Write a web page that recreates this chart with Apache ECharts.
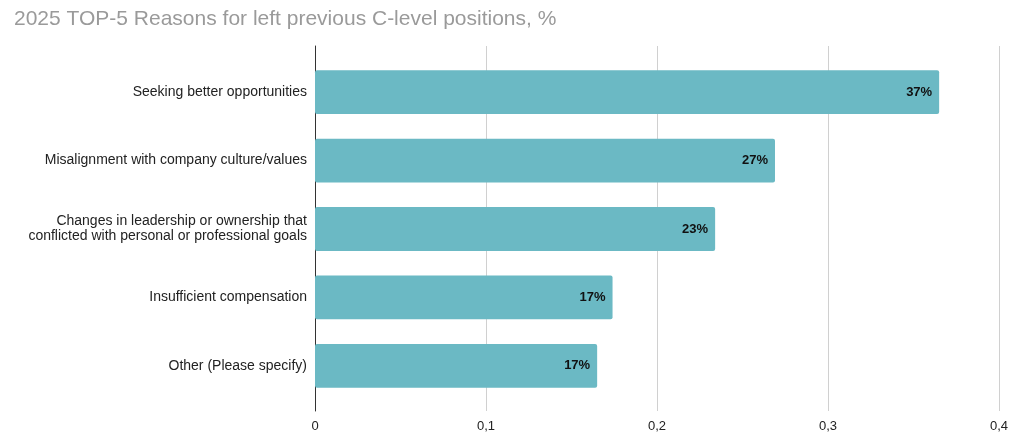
<!DOCTYPE html>
<html>
<head>
<meta charset="utf-8">
<script src="https://cdn.jsdelivr.net/npm/echarts@6/dist/echarts.min.js"></script>
<style>
  html, body { margin: 0; padding: 0; background: #fff; }
  #main { width: 1024px; height: 448px; }
</style>
</head>
<body>
<div id="main"></div>
<script>
// reasons, top to bottom
var reasons = [
  'Seeking better opportunities',
  'Misalignment with company culture/values',
  'Changes in leadership or ownership that\nconflicted with personal or professional goals',
  'Insufficient compensation',
  'Other (Please specify)'
];
var shares = [0.365, 0.269, 0.234, 0.174, 0.165];
var xTicks = [0, 0.1, 0.2, 0.3, 0.4];

var font = 'Liberation Sans, Arial, sans-serif';

var chart = echarts.init(document.getElementById('main'));
var option = {
  animation: false,
  title: {
    text: '2025 TOP-5 Reasons for left previous C-level positions, %',
    left: 9,
    top: 4,
    textStyle: { color: '#9a9a9a', fontSize: 21, fontWeight: 'normal', fontFamily: font }
  },
  grid: [
    // background grid: gridlines + axis labels
    { left: 315, right: 25, top: 46, bottom: 37 },
    // bars
    { left: 315, right: 25, top: 58, bottom: 48 }
  ],
  xAxis: [{
    gridIndex: 0,
    type: 'value',
    min: xTicks[0],
    max: xTicks[xTicks.length - 1],
    interval: 0.1,
    axisLine: { show: false },
    axisTick: { show: false },
    splitLine: { lineStyle: { color: '#d0d0d0', width: 1 } },
    axisLabel: {
      color: '#222',
      fontSize: 13,
      fontFamily: font,
      margin: 9,
      formatter: function (v) { return String(Math.round(v * 10) / 10).replace('.', ','); }
    }
  }, {
    gridIndex: 1,
    type: 'value',
    min: xTicks[0],
    max: xTicks[xTicks.length - 1],
    show: false
  }],
  yAxis: [{
    gridIndex: 0,
    type: 'category',
    data: reasons,
    axisLine: { show: true, lineStyle: { color: '#333' } },
    axisTick: { show: false },
    axisLabel: { show: false }
  }, {
    gridIndex: 1,
    type: 'category',
    inverse: true,
    data: reasons,
    axisLine: { show: false },
    axisTick: { show: false },
    axisLabel: {
      color: '#222',
      fontSize: 14,
      fontFamily: font,
      margin: 8,
      lineHeight: 15,
      align: 'right'
    }
  }],
  series: [{
    type: 'bar',
    xAxisIndex: 1,
    yAxisIndex: 1,
    data: shares,
    barCategoryGap: '36%',
    itemStyle: { color: '#6bb9c4', borderRadius: 2 },
    label: {
      show: true,
      position: 'insideRight',
      distance: 7,
      color: '#111',
      fontSize: 13,
      fontWeight: 'bold',
      fontFamily: font,
      formatter: function (p) { return Math.round(p.value * 100) + '%'; }
    }
  }]
};
chart.setOption(option);
window.onresize = chart.resize;
</script>
</body>
</html>
